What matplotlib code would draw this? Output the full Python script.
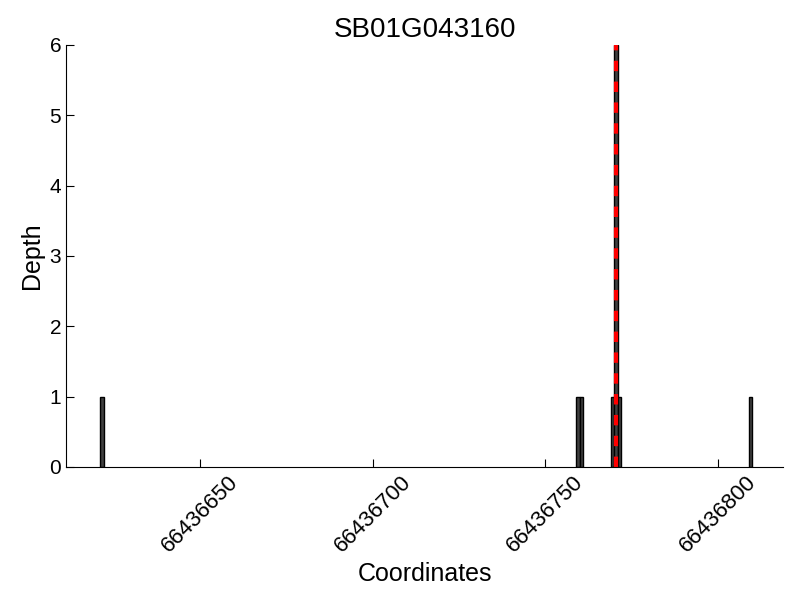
import matplotlib
matplotlib.use("Agg")
import matplotlib.pyplot as plt

plt.rcParams['font.family'] = ['Liberation Sans', 'DejaVu Sans']

title = "SB01G043160"
positions = [66436621, 66436759, 66436760, 66436769, 66436770, 66436771, 66436809]
depths = [1, 1, 1, 1, 6, 1, 1]
marker_pos = 66436770.5
xlim = (66436611, 66436819)
xticks = [66436650, 66436700, 66436750, 66436800]
yticks = [0, 1, 2, 3, 4, 5, 6]

fig = plt.figure(figsize=(8, 6), dpi=100)
ax = fig.add_axes([0.0825, 0.222, 0.8965, 0.703])
ax.bar(positions, depths, width=1, align='edge', color='#404040', edgecolor='black', linewidth=1)
ax.axvline(marker_pos, color='red', linestyle='--', linewidth=3, dashes=(2.5, 2.5))
ax.set_xlim(*xlim)
ax.set_ylim(0, 6)
ax.set_xticks(xticks)
ax.set_xticklabels([str(t) for t in xticks], rotation=45, fontsize=16)
ax.set_yticks(yticks)
ax.set_yticklabels([str(t) for t in yticks], fontsize=15)
ax.tick_params(direction='in', top=False, right=False, length=6)
ax.spines['top'].set_visible(False)
ax.spines['right'].set_visible(False)
ax.set_xlabel("Coordinates", fontsize=18)
ax.set_ylabel("Depth", fontsize=18)
ax.set_title(title, fontsize=20)
fig.savefig("out.png", dpi=100)
